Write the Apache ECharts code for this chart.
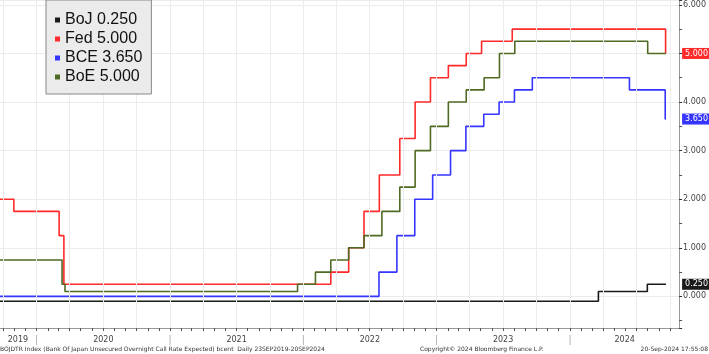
<!DOCTYPE html>
<html>
<head>
<meta charset="utf-8">
<script src="https://cdn.jsdelivr.net/npm/echarts@6/dist/echarts.min.js"></script>
<style>
    html, body { margin: 0; padding: 0; background: #fff; }
    #chart { width: 709px; height: 354px; }
</style>
</head>
<body>
<div id="chart"></div>
<script>
// 日本央行 (BoJ)
var bojDates = ['2019-09-23', '2024-03-19', '2024-07-31', '2024-09-20'];
var bojValues = [-0.10, 0.10, 0.25, 0.25];
// 美联储 (Fed) 上限
var fedDates = ['2019-09-23', '2019-10-31', '2020-03-03', '2020-03-16', '2022-03-17', '2022-05-05',
    '2022-06-16', '2022-07-28', '2022-09-22', '2022-11-03', '2022-12-15', '2023-02-02',
    '2023-03-23', '2023-05-04', '2023-07-27', '2024-09-19', '2024-09-20'];
var fedValues = [2.00, 1.75, 1.25, 0.25, 0.50, 1.00, 1.75, 2.50, 3.25, 4.00, 4.50, 4.75,
    5.00, 5.25, 5.50, 5.00, 5.00];
// 欧洲央行 (BCE)
var bceDates = ['2019-09-23', '2022-07-27', '2022-09-14', '2022-11-02', '2022-12-21', '2023-02-08',
    '2023-03-22', '2023-05-10', '2023-06-21', '2023-08-02', '2023-09-20', '2024-06-12',
    '2024-09-18', '2024-09-20'];
var bceValues = [0.00, 0.50, 1.25, 2.00, 2.50, 3.00, 3.50, 3.75, 4.00, 4.25, 4.50, 4.25, 3.65, 3.65];
// 英格兰银行 (BoE)
var boeDates = ['2019-09-23', '2020-03-11', '2020-03-19', '2021-12-16', '2022-02-03', '2022-03-17',
    '2022-05-05', '2022-06-16', '2022-08-04', '2022-09-22', '2022-11-03', '2022-12-15',
    '2023-02-02', '2023-03-23', '2023-05-11', '2023-06-22', '2023-08-03', '2024-08-01', '2024-09-20'];
var boeValues = [0.75, 0.25, 0.10, 0.25, 0.50, 0.75, 1.00, 1.25, 1.75, 2.25, 3.00, 3.50,
    4.00, 4.25, 4.50, 5.00, 5.25, 5.00, 5.00];

// 年份标签位置
var yearLabels = ['2019', '2020', '2021', '2022', '2023', '2024'];
var yearLabelDates = ['2019-11-11', '2020-07-02', '2021-07-02', '2022-07-02', '2023-07-02', '2024-05-30'];
var yearStartDates = ['2020-01-01', '2021-01-01', '2022-01-01', '2023-01-01', '2024-01-01'];

var xStart = '2019-09-23';
var xEnd = '2024-10-26';

// 'YYYY-MM-DD' 转时间戳
function ts(s) {
    var p = s.split('-');
    return new Date(+p[0], +p[1] - 1, +p[2]).getTime();
}

// 月刻度与季度网格
var monthTicks = [];
var quarterTicks = [];
for (var y = 2019; y <= 2024; y++) {
    for (var m = 0; m < 12; m++) {
        var t = new Date(y, m, 1).getTime();
        if (t < ts(xStart) || t > ts(xEnd)) continue;
        monthTicks.push(t);
        if (m % 3 == 0) quarterTicks.push(t);
    }
}

function pairs(dates, values) {
    return dates.map(function (d, i) { return [ts(d), values[i]]; });
}

function makeSeries(name, dates, values, color, tag) {
    var last = values.length - 1;
    var s = {
        name: name,
        type: 'line',
        step: 'end',
        data: pairs(dates, values),
        symbol: 'none',
        lineStyle: { color: color, width: 1.6 },
        itemStyle: { color: color },
        animation: false
    };
    if (tag) {
        s.markLine = {
            silent: true,
            symbol: ['none', 'none'],
            animation: false,
            lineStyle: { color: 'rgba(0,0,0,0)', width: 0 },
            label: {
                show: true,
                position: 'end',
                distance: 3,
                formatter: values[last].toFixed(3),
                backgroundColor: color,
                color: '#fff',
                fontSize: 8,
                fontFamily: 'DejaVu Sans',
                padding: [2, 3, 1, 3]
            },
            data: [[{ coord: [ts(dates[last]), values[last]] }, { coord: [ts(xEnd), values[last]] }]]
        };
    }
    return s;
}

var lastVal = {
    'BoJ': bojValues[bojValues.length - 1],
    'Fed': fedValues[fedValues.length - 1],
    'BCE': bceValues[bceValues.length - 1],
    'BoE': boeValues[boeValues.length - 1]
};

var myChart = echarts.init(document.getElementById('chart'));

// 季度竖向网格线
var gridSeries = {
    name: 'grid',
    type: 'line',
    data: [],
    silent: true,
    z: 1,
    markLine: {
        silent: true,
        symbol: ['none', 'none'],
        animation: false,
        label: { show: false },
        lineStyle: { color: '#ececec', width: 1, type: 'solid' },
        data: quarterTicks.map(function (t) { return { xAxis: t }; })
    }
};

var option = {
    backgroundColor: '#fff',
    animation: false,
    grid: { left: 0, right: 29, top: 0, bottom: 26 },
    legend: {
        orient: 'vertical',
        left: 46,
        top: 0,
        z: 20,
        padding: [12, 9, 9, 9],
        itemGap: 3,
        itemWidth: 5,
        itemHeight: 5,
        icon: 'rect',
        backgroundColor: '#ebebeb',
        borderColor: '#888',
        borderWidth: 1,
        textStyle: { fontSize: 16, fontFamily: 'Liberation Sans', color: '#111' },
        formatter: function (name) {
            return name + ' ' + lastVal[name].toFixed(3);
        },
        data: ['BoJ', 'Fed', 'BCE', 'BoE']
    },
    xAxis: [{
        type: 'value',
        min: ts(xStart),
        max: ts(xEnd),
        position: 'bottom',
        axisLine: { onZero: false, lineStyle: { color: '#999', width: 1 } },
        axisTick: { show: true, length: 3, customValues: monthTicks, lineStyle: { color: '#555' } },
        axisLabel: {
            customValues: yearLabelDates.map(ts),
            margin: 8,
            fontSize: 8,
            fontFamily: 'DejaVu Sans',
            color: '#444',
            formatter: function (v) {
                var yr = new Date(v).getFullYear() + '';
                return yearLabels.indexOf(yr) >= 0 ? yr : '';
            }
        },
        splitLine: { show: false }
    }, {
        type: 'value',
        min: ts(xStart),
        max: ts(xEnd),
        position: 'bottom',
        axisLine: { show: false, onZero: false },
        axisTick: { show: false },
        axisLabel: {
            customValues: yearStartDates.map(ts),
            margin: 7,
            fontSize: 10,
            color: '#aaa',
            formatter: function () { return '|'; }
        },
        splitLine: { show: false }
    }],
    yAxis: {
        type: 'value',
        position: 'right',
        min: -0.65,
        max: 6.1,
        splitNumber: 7,
        axisLine: { show: true, lineStyle: { color: '#999' } },
        axisTick: { show: true, length: 3, lineStyle: { color: '#333' } },
        minorTick: { show: true, splitNumber: 2, length: 3, lineStyle: { color: '#555' } },
        axisLabel: {
            margin: 4,
            fontSize: 8,
            fontFamily: 'DejaVu Sans',
            color: '#444',
            showMinLabel: false,
            showMaxLabel: false,
            formatter: function (v) {
                return Math.abs(v - Math.round(v)) < 1e-6 ? v.toFixed(3) : '';
            }
        },
        splitLine: { show: true, lineStyle: { color: '#ececec' } }
    },
    series: [
        gridSeries,
        makeSeries('BoJ', bojDates, bojValues, '#1a1a1a', true),
        makeSeries('Fed', fedDates, fedValues, '#ff2a2a', true),
        makeSeries('BCE', bceDates, bceValues, '#3535ff', true),
        makeSeries('BoE', boeDates, boeValues, '#4f6a22', false)
    ],
    graphic: [{
        type: 'text', left: 0, top: 346,
        style: {
            text: 'BOJDTR Index (Bank Of Japan Unsecured Overnight Call Rate Expected) bcent  Daily 23SEP2019-20SEP2024',
            fontSize: 6, fontFamily: 'DejaVu Sans', fill: '#333'
        }
    }, {
        type: 'text', left: 420, top: 346,
        style: { text: 'Copyright© 2024 Bloomberg Finance L.P.', fontSize: 6, fontFamily: 'DejaVu Sans', fill: '#333' }
    }, {
        type: 'text', right: 1, top: 346,
        style: { text: '20-Sep-2024 17:55:08', fontSize: 6, fontFamily: 'DejaVu Sans', fill: '#333' }
    }]
};

myChart.setOption(option);
</script>
</body>
</html>
